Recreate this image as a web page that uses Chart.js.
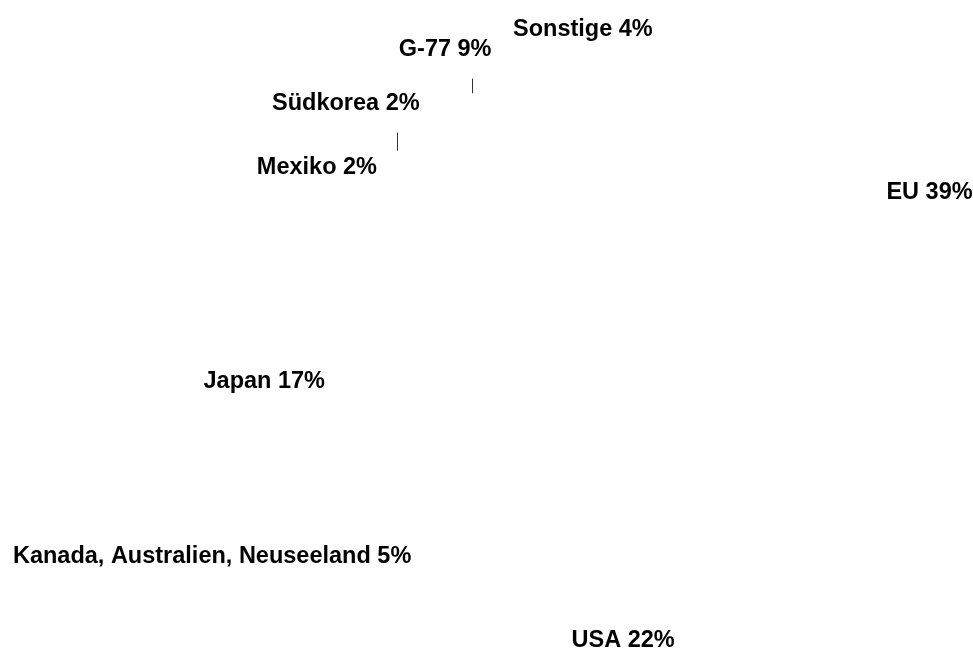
<!DOCTYPE html>
<html>
<head>
<meta charset="utf-8">
<script src="https://cdn.jsdelivr.net/npm/chart.js@4/dist/chart.umd.min.js"></script>
<style>
    html, body { margin: 0; padding: 0; background: #fff; }
    #wrap { width: 973px; height: 648px; position: relative; }
</style>
</head>
<body>
<div id="wrap"><canvas id="pie-chart"></canvas></div>
<script>
// data
var regions = ['EU', 'USA', 'Kanada, Australien, Neuseeland', 'Japan', 'Mexiko', 'Südkorea', 'G-77', 'Sonstige'];
var shares = [39, 22, 5, 17, 2, 2, 9, 4];

// label layout (angle nudge in degrees, distance past the pie edge), like moved Excel labels
var labelNudge = [-9, -7, -3.3, -10, 0, 5.6, 2.1, 1.7];
var labelGap = [50, 20, 45, 4, 12, 32, 37, 26];
var leaderLines = ['Südkorea', 'G-77'];

var fontSize = 23.5;
var labelFont = 'bold ' + fontSize + 'px "Liberation Sans", Arial, sans-serif';

var outsideLabels = {
    id: 'outsideLabels',
    afterDatasetsDraw: function(chart) {
        var ctx = chart.ctx;
        var meta = chart.getDatasetMeta(0);
        ctx.save();
        ctx.font = labelFont;
        ctx.fillStyle = '#000';
        ctx.textAlign = 'center';
        ctx.textBaseline = 'alphabetic';
        var capH = fontSize * 0.716;
        meta.data.forEach(function(arc, i) {
            var p = arc.getProps(['x', 'y', 'startAngle', 'endAngle', 'outerRadius'], true);
            var mid = (p.startAngle + p.endAngle) / 2;
            var a = mid + labelNudge[i] * Math.PI / 180;
            var dx = Math.cos(a), dy = Math.sin(a);
            var d = p.outerRadius + labelGap[i];
            var text = regions[i] + ' ' + shares[i] + '%';
            var w = ctx.measureText(text).width;
            var h = 18;
            var bx = p.x + dx * d + dx * w / 2;
            var by = p.y + dy * d + dy * h / 2;
            ctx.fillText(text, bx, by + capH / 2);

            if (leaderLines.indexOf(regions[i]) >= 0) {
                // short leader from the slice edge up toward its label
                var ex = Math.round(p.x + Math.cos(mid) * p.outerRadius) + 0.5;
                var ey = p.y + Math.sin(mid) * p.outerRadius;
                ctx.beginPath();
                ctx.strokeStyle = '#333';
                ctx.lineWidth = 1;
                ctx.moveTo(ex, ey);
                ctx.lineTo(ex, by + capH / 2 + 23);
                ctx.stroke();
            }
        });
        ctx.restore();
    }
};

var myChart = new Chart(document.getElementById('pie-chart'), {
    type: 'pie',
    data: {
        labels: regions,
        datasets: [
            {
                data: shares,
                backgroundColor: '#ffffff',
                borderColor: '#ffffff',
                borderWidth: 0,
                hoverOffset: 0,
                offset: 0
            }
        ]
    },
    options: {
        responsive: true,
        maintainAspectRatio: false,
        animation: false,
        rotation: 3,
        layout: {
            padding: { left: 325, right: 100, top: 62, bottom: 38 }
        },
        plugins: {
            legend: { display: false },
            tooltip: { enabled: false }
        }
    },
    plugins: [outsideLabels]
});
</script>
</body>
</html>
